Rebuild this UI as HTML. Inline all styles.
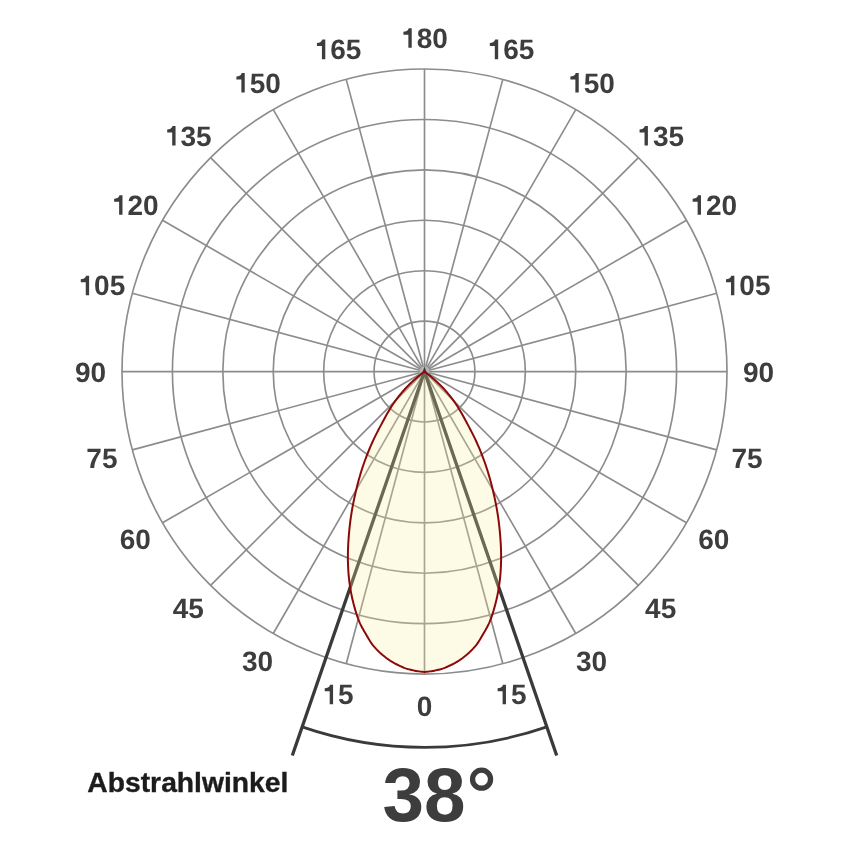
<!DOCTYPE html>
<html><head><meta charset="utf-8"><style>
html,body{margin:0;padding:0;background:#fff;width:850px;height:850px;overflow:hidden;font-family:"Liberation Sans",sans-serif;}
svg{display:block;will-change:transform;}
</style></head><body>
<svg width="850" height="850" viewBox="0 0 850 850"><rect width="850" height="850" fill="#fff"/><g fill="none" stroke="#8c8c8c" stroke-width="1.65"><circle cx="424.5" cy="371.55" r="50.42"/><circle cx="424.5" cy="371.55" r="100.83"/><circle cx="424.5" cy="371.55" r="151.25"/><circle cx="424.5" cy="371.55" r="201.67"/><circle cx="424.5" cy="371.55" r="252.08"/><circle cx="424.5" cy="371.55" r="302.50"/><line x1="424.5" y1="371.55" x2="424.50" y2="674.05"/><line x1="424.5" y1="371.55" x2="502.79" y2="663.74"/><line x1="424.5" y1="371.55" x2="575.75" y2="633.52"/><line x1="424.5" y1="371.55" x2="638.40" y2="585.45"/><line x1="424.5" y1="371.55" x2="686.47" y2="522.80"/><line x1="424.5" y1="371.55" x2="716.69" y2="449.84"/><line x1="424.5" y1="371.55" x2="727.00" y2="371.55"/><line x1="424.5" y1="371.55" x2="716.69" y2="293.26"/><line x1="424.5" y1="371.55" x2="686.47" y2="220.30"/><line x1="424.5" y1="371.55" x2="638.40" y2="157.65"/><line x1="424.5" y1="371.55" x2="575.75" y2="109.58"/><line x1="424.5" y1="371.55" x2="502.79" y2="79.36"/><line x1="424.5" y1="371.55" x2="424.50" y2="69.05"/><line x1="424.5" y1="371.55" x2="346.21" y2="79.36"/><line x1="424.5" y1="371.55" x2="273.25" y2="109.58"/><line x1="424.5" y1="371.55" x2="210.60" y2="157.65"/><line x1="424.5" y1="371.55" x2="162.53" y2="220.30"/><line x1="424.5" y1="371.55" x2="132.31" y2="293.26"/><line x1="424.5" y1="371.55" x2="122.00" y2="371.55"/><line x1="424.5" y1="371.55" x2="132.31" y2="449.84"/><line x1="424.5" y1="371.55" x2="162.53" y2="522.80"/><line x1="424.5" y1="371.55" x2="210.60" y2="585.45"/><line x1="424.5" y1="371.55" x2="273.25" y2="633.52"/><line x1="424.5" y1="371.55" x2="346.21" y2="663.74"/></g><circle cx="424.5" cy="371.55" r="5.0" fill="#fff" fill-opacity="0.35"/><path d="M292.32,755.43 L424.5,371.55 L556.68,755.43" fill="none" stroke="#3a3a3a" stroke-width="3.3" stroke-linejoin="miter" stroke-miterlimit="10"/><path d="M424.50,371.55 L423.35,372.41 L422.22,373.27 L421.10,374.14 L420.00,375.02 L418.91,375.89 L417.84,376.78 L416.79,377.66 L415.75,378.54 L414.74,379.43 L413.75,380.31 L412.79,381.19 L411.84,382.07 L410.91,382.96 L409.99,383.84 L409.09,384.73 L408.21,385.61 L407.34,386.50 L406.48,387.40 L405.64,388.30 L404.81,389.20 L403.99,390.11 L403.18,391.03 L402.38,391.95 L401.59,392.88 L400.81,393.82 L400.03,394.76 L399.26,395.72 L398.50,396.68 L397.74,397.66 L396.98,398.65 L396.23,399.65 L395.49,400.67 L394.74,401.69 L394.02,402.72 L393.32,403.73 L392.64,404.75 L391.97,405.76 L391.32,406.78 L390.67,407.80 L390.04,408.84 L389.41,409.88 L388.78,410.94 L388.15,412.01 L387.52,413.10 L386.88,414.22 L386.24,415.36 L385.59,416.53 L384.92,417.73 L384.25,418.97 L383.56,420.24 L382.85,421.56 L382.12,422.92 L381.36,424.35 L380.56,425.85 L379.73,427.40 L378.88,429.01 L378.02,430.67 L377.15,432.36 L376.27,434.09 L375.39,435.85 L374.53,437.63 L373.67,439.42 L372.83,441.22 L372.02,443.01 L371.22,444.81 L370.43,446.64 L369.65,448.49 L368.87,450.36 L368.10,452.25 L367.34,454.16 L366.59,456.09 L365.85,458.04 L365.12,460.00 L364.40,461.98 L363.70,463.98 L363.02,465.98 L362.35,468.00 L361.69,470.02 L361.06,472.06 L360.44,474.10 L359.83,476.16 L359.24,478.24 L358.66,480.33 L358.09,482.44 L357.54,484.56 L356.99,486.71 L356.45,488.89 L355.93,491.08 L355.41,493.31 L354.89,495.57 L354.39,497.85 L353.89,500.16 L353.41,502.49 L352.95,504.83 L352.51,507.18 L352.08,509.54 L351.68,511.90 L351.31,514.26 L350.95,516.62 L350.61,519.00 L350.30,521.38 L350.00,523.77 L349.72,526.17 L349.47,528.58 L349.23,531.00 L349.01,533.43 L348.80,535.87 L348.61,538.34 L348.44,540.82 L348.29,543.31 L348.16,545.81 L348.05,548.31 L347.96,550.81 L347.91,553.30 L347.88,555.78 L347.88,558.24 L347.91,560.68 L347.97,563.11 L348.06,565.54 L348.17,567.95 L348.30,570.36 L348.47,572.75 L348.66,575.12 L348.88,577.48 L349.13,579.81 L349.42,582.11 L349.72,584.41 L350.06,586.68 L350.41,588.94 L350.80,591.18 L351.21,593.40 L351.65,595.60 L352.11,597.78 L352.60,599.94 L353.12,602.07 L353.66,604.18 L354.22,606.29 L354.80,608.39 L355.40,610.47 L356.03,612.54 L356.68,614.57 L357.36,616.57 L358.07,618.53 L358.80,620.44 L359.57,622.29 L360.37,624.09 L361.20,625.81 L362.06,627.47 L362.95,629.08 L363.85,630.67 L364.77,632.24 L365.70,633.82 L366.64,635.42 L367.59,637.06 L368.55,638.71 L369.52,640.35 L370.51,641.93 L371.54,643.44 L372.60,644.84 L373.68,646.17 L374.78,647.45 L375.90,648.68 L377.03,649.86 L378.19,651.02 L379.35,652.14 L380.53,653.23 L381.72,654.30 L382.93,655.33 L384.15,656.32 L385.38,657.28 L386.62,658.21 L387.87,659.10 L389.14,659.97 L390.41,660.81 L391.70,661.61 L392.99,662.38 L394.29,663.12 L395.61,663.82 L396.93,664.50 L398.26,665.15 L399.59,665.78 L400.93,666.38 L402.28,666.98 L403.63,667.56 L404.99,668.10 L406.36,668.60 L407.73,669.03 L409.11,669.41 L410.50,669.76 L411.89,670.08 L413.28,670.38 L414.67,670.65 L416.07,670.91 L417.47,671.16 L418.87,671.38 L420.28,671.57 L421.68,671.72 L423.09,671.84 L424.50,671.90 L425.91,671.84 L427.32,671.72 L428.72,671.57 L430.13,671.38 L431.53,671.16 L432.93,670.91 L434.33,670.65 L435.72,670.38 L437.11,670.08 L438.50,669.76 L439.89,669.41 L441.27,669.03 L442.64,668.60 L444.01,668.10 L445.37,667.56 L446.72,666.98 L448.07,666.38 L449.41,665.78 L450.74,665.15 L452.07,664.50 L453.39,663.82 L454.71,663.12 L456.01,662.38 L457.30,661.61 L458.59,660.81 L459.86,659.97 L461.13,659.10 L462.38,658.21 L463.62,657.28 L464.85,656.32 L466.07,655.33 L467.28,654.30 L468.47,653.23 L469.65,652.14 L470.81,651.02 L471.97,649.86 L473.10,648.68 L474.22,647.45 L475.32,646.17 L476.40,644.84 L477.46,643.44 L478.49,641.93 L479.48,640.35 L480.45,638.71 L481.41,637.06 L482.36,635.42 L483.30,633.82 L484.23,632.24 L485.15,630.67 L486.05,629.08 L486.94,627.47 L487.80,625.81 L488.63,624.09 L489.43,622.29 L490.20,620.44 L490.93,618.53 L491.64,616.57 L492.32,614.57 L492.97,612.54 L493.60,610.47 L494.20,608.39 L494.78,606.29 L495.34,604.18 L495.88,602.07 L496.40,599.94 L496.89,597.78 L497.35,595.60 L497.79,593.40 L498.20,591.18 L498.59,588.94 L498.94,586.68 L499.28,584.41 L499.58,582.11 L499.87,579.81 L500.12,577.48 L500.34,575.12 L500.53,572.75 L500.70,570.36 L500.83,567.95 L500.94,565.54 L501.03,563.11 L501.09,560.68 L501.12,558.24 L501.12,555.78 L501.09,553.30 L501.04,550.81 L500.95,548.31 L500.84,545.81 L500.71,543.31 L500.56,540.82 L500.39,538.34 L500.20,535.87 L499.99,533.43 L499.77,531.00 L499.53,528.58 L499.28,526.17 L499.00,523.77 L498.70,521.38 L498.39,519.00 L498.05,516.62 L497.69,514.26 L497.32,511.90 L496.92,509.54 L496.49,507.18 L496.05,504.83 L495.59,502.49 L495.11,500.16 L494.61,497.85 L494.11,495.57 L493.59,493.31 L493.07,491.08 L492.55,488.89 L492.01,486.71 L491.46,484.56 L490.91,482.44 L490.34,480.33 L489.76,478.24 L489.17,476.16 L488.56,474.10 L487.94,472.06 L487.31,470.02 L486.65,468.00 L485.98,465.98 L485.30,463.98 L484.60,461.98 L483.88,460.00 L483.15,458.04 L482.41,456.09 L481.66,454.16 L480.90,452.25 L480.13,450.36 L479.35,448.49 L478.57,446.64 L477.78,444.81 L476.98,443.01 L476.17,441.22 L475.33,439.42 L474.47,437.63 L473.61,435.85 L472.73,434.09 L471.85,432.36 L470.98,430.67 L470.12,429.01 L469.27,427.40 L468.44,425.85 L467.64,424.35 L466.88,422.92 L466.15,421.56 L465.44,420.24 L464.75,418.97 L464.08,417.73 L463.41,416.53 L462.76,415.36 L462.12,414.22 L461.48,413.10 L460.85,412.01 L460.22,410.94 L459.59,409.88 L458.96,408.84 L458.33,407.80 L457.68,406.78 L457.03,405.76 L456.36,404.75 L455.68,403.73 L454.98,402.72 L454.26,401.69 L453.51,400.67 L452.77,399.65 L452.02,398.65 L451.26,397.66 L450.50,396.68 L449.74,395.72 L448.97,394.76 L448.19,393.82 L447.41,392.88 L446.62,391.95 L445.82,391.03 L445.01,390.11 L444.19,389.20 L443.36,388.30 L442.52,387.40 L441.66,386.50 L440.79,385.61 L439.91,384.73 L439.01,383.84 L438.09,382.96 L437.16,382.07 L436.21,381.19 L435.25,380.31 L434.26,379.43 L433.25,378.54 L432.21,377.66 L431.16,376.78 L430.09,375.89 L429.00,375.02 L427.90,374.14 L426.78,373.27 L425.65,372.41 L424.50,371.55 Z" fill="#f7eca0" fill-opacity="0.26" stroke="none"/><path d="M424.50,371.55 L423.35,372.41 L422.22,373.27 L421.10,374.14 L420.00,375.02 L418.91,375.89 L417.84,376.78 L416.79,377.66 L415.75,378.54 L414.74,379.43 L413.75,380.31 L412.79,381.19 L411.84,382.07 L410.91,382.96 L409.99,383.84 L409.09,384.73 L408.21,385.61 L407.34,386.50 L406.48,387.40 L405.64,388.30 L404.81,389.20 L403.99,390.11 L403.18,391.03 L402.38,391.95 L401.59,392.88 L400.81,393.82 L400.03,394.76 L399.26,395.72 L398.50,396.68 L397.74,397.66 L396.98,398.65 L396.23,399.65 L395.49,400.67 L394.74,401.69 L394.02,402.72 L393.32,403.73 L392.64,404.75 L391.97,405.76 L391.32,406.78 L390.67,407.80 L390.04,408.84 L389.41,409.88 L388.78,410.94 L388.15,412.01 L387.52,413.10 L386.88,414.22 L386.24,415.36 L385.59,416.53 L384.92,417.73 L384.25,418.97 L383.56,420.24 L382.85,421.56 L382.12,422.92 L381.36,424.35 L380.56,425.85 L379.73,427.40 L378.88,429.01 L378.02,430.67 L377.15,432.36 L376.27,434.09 L375.39,435.85 L374.53,437.63 L373.67,439.42 L372.83,441.22 L372.02,443.01 L371.22,444.81 L370.43,446.64 L369.65,448.49 L368.87,450.36 L368.10,452.25 L367.34,454.16 L366.59,456.09 L365.85,458.04 L365.12,460.00 L364.40,461.98 L363.70,463.98 L363.02,465.98 L362.35,468.00 L361.69,470.02 L361.06,472.06 L360.44,474.10 L359.83,476.16 L359.24,478.24 L358.66,480.33 L358.09,482.44 L357.54,484.56 L356.99,486.71 L356.45,488.89 L355.93,491.08 L355.41,493.31 L354.89,495.57 L354.39,497.85 L353.89,500.16 L353.41,502.49 L352.95,504.83 L352.51,507.18 L352.08,509.54 L351.68,511.90 L351.31,514.26 L350.95,516.62 L350.61,519.00 L350.30,521.38 L350.00,523.77 L349.72,526.17 L349.47,528.58 L349.23,531.00 L349.01,533.43 L348.80,535.87 L348.61,538.34 L348.44,540.82 L348.29,543.31 L348.16,545.81 L348.05,548.31 L347.96,550.81 L347.91,553.30 L347.88,555.78 L347.88,558.24 L347.91,560.68 L347.97,563.11 L348.06,565.54 L348.17,567.95 L348.30,570.36 L348.47,572.75 L348.66,575.12 L348.88,577.48 L349.13,579.81 L349.42,582.11 L349.72,584.41 L350.06,586.68 L350.41,588.94 L350.80,591.18 L351.21,593.40 L351.65,595.60 L352.11,597.78 L352.60,599.94 L353.12,602.07 L353.66,604.18 L354.22,606.29 L354.80,608.39 L355.40,610.47 L356.03,612.54 L356.68,614.57 L357.36,616.57 L358.07,618.53 L358.80,620.44 L359.57,622.29 L360.37,624.09 L361.20,625.81 L362.06,627.47 L362.95,629.08 L363.85,630.67 L364.77,632.24 L365.70,633.82 L366.64,635.42 L367.59,637.06 L368.55,638.71 L369.52,640.35 L370.51,641.93 L371.54,643.44 L372.60,644.84 L373.68,646.17 L374.78,647.45 L375.90,648.68 L377.03,649.86 L378.19,651.02 L379.35,652.14 L380.53,653.23 L381.72,654.30 L382.93,655.33 L384.15,656.32 L385.38,657.28 L386.62,658.21 L387.87,659.10 L389.14,659.97 L390.41,660.81 L391.70,661.61 L392.99,662.38 L394.29,663.12 L395.61,663.82 L396.93,664.50 L398.26,665.15 L399.59,665.78 L400.93,666.38 L402.28,666.98 L403.63,667.56 L404.99,668.10 L406.36,668.60 L407.73,669.03 L409.11,669.41 L410.50,669.76 L411.89,670.08 L413.28,670.38 L414.67,670.65 L416.07,670.91 L417.47,671.16 L418.87,671.38 L420.28,671.57 L421.68,671.72 L423.09,671.84 L424.50,671.90 L425.91,671.84 L427.32,671.72 L428.72,671.57 L430.13,671.38 L431.53,671.16 L432.93,670.91 L434.33,670.65 L435.72,670.38 L437.11,670.08 L438.50,669.76 L439.89,669.41 L441.27,669.03 L442.64,668.60 L444.01,668.10 L445.37,667.56 L446.72,666.98 L448.07,666.38 L449.41,665.78 L450.74,665.15 L452.07,664.50 L453.39,663.82 L454.71,663.12 L456.01,662.38 L457.30,661.61 L458.59,660.81 L459.86,659.97 L461.13,659.10 L462.38,658.21 L463.62,657.28 L464.85,656.32 L466.07,655.33 L467.28,654.30 L468.47,653.23 L469.65,652.14 L470.81,651.02 L471.97,649.86 L473.10,648.68 L474.22,647.45 L475.32,646.17 L476.40,644.84 L477.46,643.44 L478.49,641.93 L479.48,640.35 L480.45,638.71 L481.41,637.06 L482.36,635.42 L483.30,633.82 L484.23,632.24 L485.15,630.67 L486.05,629.08 L486.94,627.47 L487.80,625.81 L488.63,624.09 L489.43,622.29 L490.20,620.44 L490.93,618.53 L491.64,616.57 L492.32,614.57 L492.97,612.54 L493.60,610.47 L494.20,608.39 L494.78,606.29 L495.34,604.18 L495.88,602.07 L496.40,599.94 L496.89,597.78 L497.35,595.60 L497.79,593.40 L498.20,591.18 L498.59,588.94 L498.94,586.68 L499.28,584.41 L499.58,582.11 L499.87,579.81 L500.12,577.48 L500.34,575.12 L500.53,572.75 L500.70,570.36 L500.83,567.95 L500.94,565.54 L501.03,563.11 L501.09,560.68 L501.12,558.24 L501.12,555.78 L501.09,553.30 L501.04,550.81 L500.95,548.31 L500.84,545.81 L500.71,543.31 L500.56,540.82 L500.39,538.34 L500.20,535.87 L499.99,533.43 L499.77,531.00 L499.53,528.58 L499.28,526.17 L499.00,523.77 L498.70,521.38 L498.39,519.00 L498.05,516.62 L497.69,514.26 L497.32,511.90 L496.92,509.54 L496.49,507.18 L496.05,504.83 L495.59,502.49 L495.11,500.16 L494.61,497.85 L494.11,495.57 L493.59,493.31 L493.07,491.08 L492.55,488.89 L492.01,486.71 L491.46,484.56 L490.91,482.44 L490.34,480.33 L489.76,478.24 L489.17,476.16 L488.56,474.10 L487.94,472.06 L487.31,470.02 L486.65,468.00 L485.98,465.98 L485.30,463.98 L484.60,461.98 L483.88,460.00 L483.15,458.04 L482.41,456.09 L481.66,454.16 L480.90,452.25 L480.13,450.36 L479.35,448.49 L478.57,446.64 L477.78,444.81 L476.98,443.01 L476.17,441.22 L475.33,439.42 L474.47,437.63 L473.61,435.85 L472.73,434.09 L471.85,432.36 L470.98,430.67 L470.12,429.01 L469.27,427.40 L468.44,425.85 L467.64,424.35 L466.88,422.92 L466.15,421.56 L465.44,420.24 L464.75,418.97 L464.08,417.73 L463.41,416.53 L462.76,415.36 L462.12,414.22 L461.48,413.10 L460.85,412.01 L460.22,410.94 L459.59,409.88 L458.96,408.84 L458.33,407.80 L457.68,406.78 L457.03,405.76 L456.36,404.75 L455.68,403.73 L454.98,402.72 L454.26,401.69 L453.51,400.67 L452.77,399.65 L452.02,398.65 L451.26,397.66 L450.50,396.68 L449.74,395.72 L448.97,394.76 L448.19,393.82 L447.41,392.88 L446.62,391.95 L445.82,391.03 L445.01,390.11 L444.19,389.20 L443.36,388.30 L442.52,387.40 L441.66,386.50 L440.79,385.61 L439.91,384.73 L439.01,383.84 L438.09,382.96 L437.16,382.07 L436.21,381.19 L435.25,380.31 L434.26,379.43 L433.25,378.54 L432.21,377.66 L431.16,376.78 L430.09,375.89 L429.00,375.02 L427.90,374.14 L426.78,373.27 L425.65,372.41 L424.50,371.55 Z" fill="none" stroke="#8c0909" stroke-width="2.0" stroke-linejoin="miter" stroke-miterlimit="10"/><path d="M302.15,726.88 A375.8,375.8 0 0 0 546.85,726.88" fill="none" stroke="#3a3a3a" stroke-width="2.7"/><g text-rendering="geometricPrecision" font-family="Liberation Sans" font-weight="bold" font-size="28" fill="#3d3d3d"><text transform="translate(416.72,715.75) scale(1.0,1)">0</text><text transform="translate(338.05,704.37) scale(1.0,1)">5</text><text transform="translate(510.95,704.37) scale(1.0,1)">5</text><text transform="translate(241.93,671.00) scale(1.0,1)">3</text><text transform="translate(257.50,671.00) scale(1.0,1)">0</text><text transform="translate(575.93,671.00) scale(1.0,1)">3</text><text transform="translate(591.50,671.00) scale(1.0,1)">0</text><text transform="translate(172.76,617.93) scale(1.0,1)">4</text><text transform="translate(188.33,617.93) scale(1.0,1)">5</text><text transform="translate(645.11,617.93) scale(1.0,1)">4</text><text transform="translate(660.67,617.93) scale(1.0,1)">5</text><text transform="translate(119.68,548.75) scale(1.0,1)">6</text><text transform="translate(135.25,548.75) scale(1.0,1)">0</text><text transform="translate(698.18,548.75) scale(1.0,1)">6</text><text transform="translate(713.75,548.75) scale(1.0,1)">0</text><text transform="translate(86.31,468.20) scale(1.0,1)">7</text><text transform="translate(101.88,468.20) scale(1.0,1)">5</text><text transform="translate(731.55,468.20) scale(1.0,1)">7</text><text transform="translate(747.12,468.20) scale(1.0,1)">5</text><text transform="translate(74.93,381.75) scale(1.0,1)">9</text><text transform="translate(90.50,381.75) scale(1.0,1)">0</text><text transform="translate(742.93,381.75) scale(1.0,1)">9</text><text transform="translate(758.50,381.75) scale(1.0,1)">0</text><text transform="translate(94.10,295.31) scale(1.0,1)">0</text><text transform="translate(109.66,295.31) scale(1.0,1)">5</text><text transform="translate(739.34,295.31) scale(1.0,1)">0</text><text transform="translate(754.90,295.31) scale(1.0,1)">5</text><text transform="translate(127.46,214.75) scale(1.0,1)">2</text><text transform="translate(143.03,214.75) scale(1.0,1)">0</text><text transform="translate(705.97,214.75) scale(1.0,1)">2</text><text transform="translate(721.54,214.75) scale(1.0,1)">0</text><text transform="translate(180.54,145.58) scale(1.0,1)">3</text><text transform="translate(196.11,145.58) scale(1.0,1)">5</text><text transform="translate(652.89,145.58) scale(1.0,1)">3</text><text transform="translate(668.46,145.58) scale(1.0,1)">5</text><text transform="translate(249.72,92.50) scale(1.0,1)">5</text><text transform="translate(265.28,92.50) scale(1.0,1)">0</text><text transform="translate(583.72,92.50) scale(1.0,1)">5</text><text transform="translate(599.28,92.50) scale(1.0,1)">0</text><text transform="translate(330.27,59.13) scale(1.0,1)">6</text><text transform="translate(345.84,59.13) scale(1.0,1)">5</text><text transform="translate(503.16,59.13) scale(1.0,1)">6</text><text transform="translate(518.73,59.13) scale(1.0,1)">5</text><text transform="translate(416.72,47.75) scale(1.0,1)">8</text><text transform="translate(432.28,47.75) scale(1.0,1)">0</text></g><g fill="#3d3d3d"><path transform="translate(322.49,704.37) scale(0.02800,-0.02800)" d="M80,465 L80,574 C160,578 250,605 272,698 L378,698 L378,0 L258,0 L258,465 Z"/><path transform="translate(495.38,704.37) scale(0.02800,-0.02800)" d="M80,465 L80,574 C160,578 250,605 272,698 L378,698 L378,0 L258,0 L258,465 Z"/><path transform="translate(78.53,295.31) scale(0.02800,-0.02800)" d="M80,465 L80,574 C160,578 250,605 272,698 L378,698 L378,0 L258,0 L258,465 Z"/><path transform="translate(723.77,295.31) scale(0.02800,-0.02800)" d="M80,465 L80,574 C160,578 250,605 272,698 L378,698 L378,0 L258,0 L258,465 Z"/><path transform="translate(111.90,214.75) scale(0.02800,-0.02800)" d="M80,465 L80,574 C160,578 250,605 272,698 L378,698 L378,0 L258,0 L258,465 Z"/><path transform="translate(690.40,214.75) scale(0.02800,-0.02800)" d="M80,465 L80,574 C160,578 250,605 272,698 L378,698 L378,0 L258,0 L258,465 Z"/><path transform="translate(164.97,145.58) scale(0.02800,-0.02800)" d="M80,465 L80,574 C160,578 250,605 272,698 L378,698 L378,0 L258,0 L258,465 Z"/><path transform="translate(637.32,145.58) scale(0.02800,-0.02800)" d="M80,465 L80,574 C160,578 250,605 272,698 L378,698 L378,0 L258,0 L258,465 Z"/><path transform="translate(234.15,92.50) scale(0.02800,-0.02800)" d="M80,465 L80,574 C160,578 250,605 272,698 L378,698 L378,0 L258,0 L258,465 Z"/><path transform="translate(568.15,92.50) scale(0.02800,-0.02800)" d="M80,465 L80,574 C160,578 250,605 272,698 L378,698 L378,0 L258,0 L258,465 Z"/><path transform="translate(314.70,59.13) scale(0.02800,-0.02800)" d="M80,465 L80,574 C160,578 250,605 272,698 L378,698 L378,0 L258,0 L258,465 Z"/><path transform="translate(487.59,59.13) scale(0.02800,-0.02800)" d="M80,465 L80,574 C160,578 250,605 272,698 L378,698 L378,0 L258,0 L258,465 Z"/><path transform="translate(401.15,47.75) scale(0.02800,-0.02800)" d="M80,465 L80,574 C160,578 250,605 272,698 L378,698 L378,0 L258,0 L258,465 Z"/></g><text x="87.3" y="791.8" font-family="Liberation Sans" font-weight="bold" font-size="27" fill="#1c1c1c" stroke="#1c1c1c" stroke-width="0.35" textLength="201.1" lengthAdjust="spacingAndGlyphs">Abstrahlwinkel</text><text transform="translate(382.6,821.2) scale(0.972,1)" font-family="Liberation Sans" font-weight="bold" font-size="76.8" fill="#3d3d3d">38</text><circle cx="481.55" cy="779.15" r="9.0" fill="none" stroke="#3d3d3d" stroke-width="5.3"/></svg>
</body></html>
